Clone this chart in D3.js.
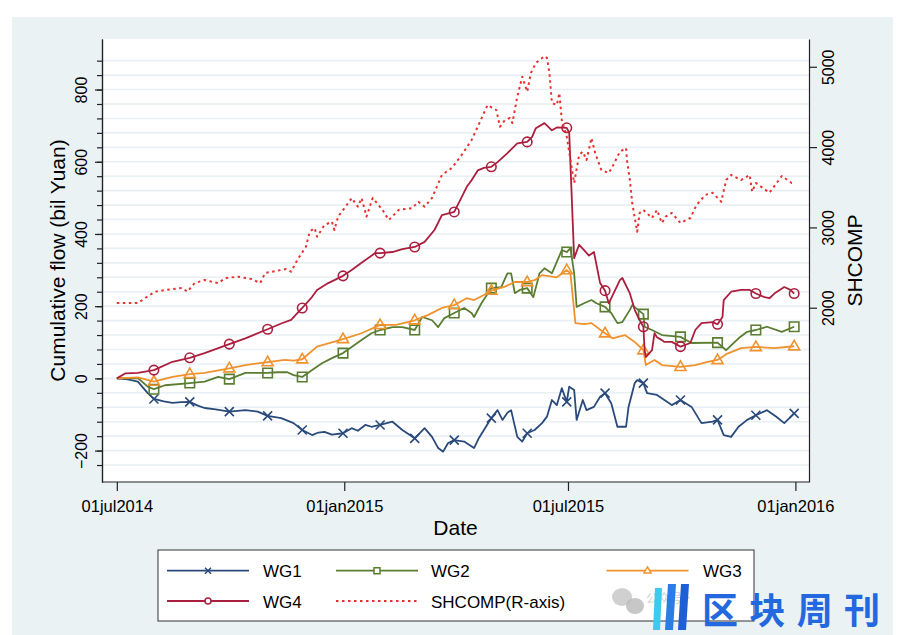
<!DOCTYPE html>
<html>
<head>
<meta charset="utf-8">
<script src="https://cdn.jsdelivr.net/npm/d3@7"></script>
<style>
body { margin: 0; background: #fff; }
svg text { font-family: "Liberation Sans", Arial, Helvetica, sans-serif; fill: #000; }
</style>
</head>
<body>
<svg id="chart" width="907" height="635"></svg>
<script>
// month-end observations that carry a marker
const markerDates = ["2014-07-31","2014-08-29","2014-09-30","2014-10-31","2014-11-28","2014-12-31",
  "2015-01-30","2015-02-27","2015-03-31","2015-04-30","2015-05-29","2015-06-30",
  "2015-07-31","2015-08-31","2015-09-30","2015-10-30","2015-11-30","2015-12-31"];

const wg1 = [["2014-07-01",0],["2014-07-10",-3],["2014-07-18",-9],["2014-07-26",-41],["2014-07-31",-57],["2014-08-08",-64],["2014-08-15",-68],["2014-08-22",-66],["2014-08-29",-65],["2014-09-05",-76],["2014-09-10",-82],["2014-09-19",-86],["2014-09-30",-92],["2014-10-13",-88],["2014-10-23",-92],["2014-10-31",-104],["2014-11-11",-110],["2014-11-21",-124],["2014-11-28",-143],["2014-12-06",-157],["2014-12-11",-150],["2014-12-16",-148],["2014-12-22",-156],["2014-12-31",-152],["2015-01-07",-138],["2015-01-12",-145],["2015-01-18",-129],["2015-01-23",-134],["2015-01-30",-129],["2015-02-09",-120],["2015-02-17",-143],["2015-02-27",-166],["2015-03-07",-138],["2015-03-13",-162],["2015-03-18",-193],["2015-03-22",-203],["2015-03-26",-179],["2015-03-31",-171],["2015-04-08",-175],["2015-04-16",-193],["2015-04-20",-165],["2015-04-24",-143],["2015-04-30",-110],["2015-05-05",-88],["2015-05-09",-115],["2015-05-13",-95],["2015-05-16",-88],["2015-05-21",-162],["2015-05-25",-175],["2015-05-29",-152],["2015-06-04",-143],["2015-06-10",-124],["2015-06-14",-106],["2015-06-18",-60],["2015-06-22",-74],["2015-06-26",-27],["2015-06-30",-65],["2015-07-02",-23],["2015-07-06",-32],["2015-07-08",-115],["2015-07-13",-60],["2015-07-16",-88],["2015-07-22",-79],["2015-07-27",-51],["2015-07-31",-41],["2015-08-05",-69],["2015-08-10",-134],["2015-08-17",-134],["2015-08-19",-79],["2015-08-24",-13],["2015-08-26",-5],["2015-08-31",-13],["2015-09-03",-41],["2015-09-11",-46],["2015-09-17",-60],["2015-09-23",-74],["2015-09-30",-60],["2015-10-09",-79],["2015-10-17",-124],["2015-10-26",-120],["2015-10-30",-115],["2015-11-04",-157],["2015-11-10",-162],["2015-11-16",-134],["2015-11-23",-115],["2015-11-30",-102],["2015-12-09",-88],["2015-12-16",-105],["2015-12-23",-124],["2015-12-31",-97]];

const wg2 = [["2014-07-01",0],["2014-07-18",1],["2014-07-26",-23],["2014-07-31",-30],["2014-08-09",-19],["2014-08-29",-13],["2014-09-10",-9],["2014-09-21",4],["2014-09-30",-2],["2014-10-13",15],["2014-10-31",15],["2014-11-08",17],["2014-11-16",17],["2014-11-21",9],["2014-11-28",4],["2014-12-06",23],["2014-12-14",42],["2014-12-22",56],["2014-12-31",70],["2015-01-07",87],["2015-01-15",106],["2015-01-23",125],["2015-01-30",134],["2015-02-09",142],["2015-02-17",142],["2015-02-27",134],["2015-03-05",170],["2015-03-13",161],["2015-03-18",142],["2015-03-23",167],["2015-03-31",181],["2015-04-08",195],["2015-04-14",181],["2015-04-16",170],["2015-04-22",208],["2015-04-30",250],["2015-05-08",253],["2015-05-13",291],["2015-05-16",291],["2015-05-19",236],["2015-05-23",245],["2015-05-29",250],["2015-06-03",225],["2015-06-08",291],["2015-06-12",305],["2015-06-18",291],["2015-06-26",355],["2015-06-30",350],["2015-07-03",361],["2015-07-06",291],["2015-07-08",198],["2015-07-14",208],["2015-07-20",217],["2015-07-24",208],["2015-07-31",198],["2015-08-05",181],["2015-08-10",153],["2015-08-14",156],["2015-08-20",189],["2015-08-22",203],["2015-08-31",178],["2015-09-01",143],["2015-09-07",134],["2015-09-15",120],["2015-09-30",115],["2015-10-09",98],["2015-10-30",99],["2015-11-06",78],["2015-11-16",111],["2015-11-23",129],["2015-11-30",134],["2015-12-09",143],["2015-12-21",129],["2015-12-31",143]];

const wg3 = [["2014-07-01",0],["2014-07-18",3],["2014-07-31",-9],["2014-08-15",4],["2014-08-29",12],["2014-09-10",15],["2014-09-30",28],["2014-10-13",37],["2014-10-31",45],["2014-11-14",51],["2014-11-21",49],["2014-11-28",53],["2014-12-10",88],["2014-12-31",109],["2015-01-15",125],["2015-01-30",148],["2015-02-12",148],["2015-02-27",161],["2015-03-10",176],["2015-03-21",195],["2015-03-31",203],["2015-04-10",222],["2015-04-16",217],["2015-04-24",231],["2015-04-30",243],["2015-05-11",254],["2015-05-19",267],["2015-05-29",267],["2015-06-04",272],["2015-06-10",286],["2015-06-22",280],["2015-06-30",300],["2015-07-03",291],["2015-07-07",153],["2015-07-14",150],["2015-07-20",153],["2015-07-31",125],["2015-08-06",111],["2015-08-16",120],["2015-08-24",101],["2015-08-31",78],["2015-09-02",37],["2015-09-09",51],["2015-09-15",37],["2015-09-30",32],["2015-10-12",37],["2015-10-22",46],["2015-10-30",51],["2015-11-06",67],["2015-11-18",84],["2015-11-30",87],["2015-12-15",84],["2015-12-31",89]];

const wg4 = [["2014-07-01",0],["2014-07-08",14],["2014-07-18",15],["2014-07-31",23],["2014-08-15",46],["2014-08-29",57],["2014-09-10",70],["2014-09-30",95],["2014-10-13",111],["2014-10-31",136],["2014-11-11",152],["2014-11-19",162],["2014-11-28",195],["2014-12-06",226],["2014-12-10",245],["2014-12-19",264],["2014-12-24",272],["2014-12-31",284],["2015-01-07",300],["2015-01-15",320],["2015-01-26",347],["2015-01-30",347],["2015-02-09",350],["2015-02-17",358],["2015-02-27",364],["2015-03-07",378],["2015-03-15",411],["2015-03-21",452],["2015-03-31",461],["2015-04-06",502],["2015-04-10",530],["2015-04-14",549],["2015-04-19",576],["2015-04-24",583],["2015-04-30",586],["2015-05-05",599],["2015-05-13",624],["2015-05-21",651],["2015-05-29",655],["2015-06-02",669],["2015-06-05",693],["2015-06-12",707],["2015-06-18",687],["2015-06-22",695],["2015-06-30",694],["2015-07-02",680],["2015-07-06",333],["2015-07-10",370],["2015-07-14",355],["2015-07-18",340],["2015-07-22",350],["2015-07-27",264],["2015-07-31",243],["2015-08-03",208],["2015-08-12",272],["2015-08-14",278],["2015-08-20",236],["2015-08-24",190],["2015-08-28",161],["2015-08-31",143],["2015-09-01",78],["2015-09-02",59],["2015-09-07",78],["2015-09-09",125],["2015-09-11",114],["2015-09-15",106],["2015-09-17",101],["2015-09-23",101],["2015-09-30",88],["2015-10-08",98],["2015-10-12",134],["2015-10-17",153],["2015-10-26",156],["2015-10-30",150],["2015-11-03",170],["2015-11-04",217],["2015-11-10",240],["2015-11-18",245],["2015-11-25",245],["2015-11-30",235],["2015-12-07",225],["2015-12-11",222],["2015-12-15",235],["2015-12-23",253],["2015-12-28",245],["2015-12-31",235]];

const shcomp = [["2014-07-01",2058],["2014-07-18",2058],["2014-07-24",2121],["2014-08-01",2200],["2014-08-15",2233],["2014-08-23",2245],["2014-08-27",2200],["2014-09-02",2307],["2014-09-10",2345],["2014-09-21",2307],["2014-09-27",2370],["2014-10-07",2386],["2014-10-18",2357],["2014-10-25",2307],["2014-10-29",2432],["2014-11-08",2461],["2014-11-15",2482],["2014-11-19",2448],["2014-11-24",2594],["2014-12-01",2760],["2014-12-04",2946],["2014-12-08",2992],["2014-12-10",2884],["2014-12-16",3030],["2014-12-22",3071],["2014-12-24",2968],["2014-12-27",3134],["2015-01-05",3320],["2015-01-07",3366],["2015-01-12",3258],["2015-01-15",3366],["2015-01-19",3134],["2015-01-24",3366],["2015-02-01",3217],["2015-02-06",3092],["2015-02-14",3217],["2015-02-25",3241],["2015-03-02",3320],["2015-03-07",3258],["2015-03-13",3366],["2015-03-21",3653],["2015-03-29",3740],["2015-04-06",3902],["2015-04-14",4088],["2015-04-19",4254],["2015-04-24",4425],["2015-04-27",4524],["2015-05-04",4462],["2015-05-07",4254],["2015-05-11",4338],["2015-05-15",4362],["2015-05-17",4300],["2015-05-21",4628],["2015-05-25",4877],["2015-05-29",4690],["2015-06-01",4922],["2015-06-05",5047],["2015-06-12",5134],["2015-06-14",5110],["2015-06-16",4922],["2015-06-18",4549],["2015-06-22",4524],["2015-06-24",4673],["2015-06-26",4338],["2015-06-30",4130],["2015-07-03",3839],["2015-07-06",3553],["2015-07-10",3901],["2015-07-13",3943],["2015-07-16",3839],["2015-07-20",4113],["2015-07-23",3926],["2015-07-28",3715],["2015-08-03",3677],["2015-08-06",3756],["2015-08-12",3943],["2015-08-17",3989],["2015-08-18",3800],["2015-08-20",3600],["2015-08-22",3300],["2015-08-26",2946],["2015-08-28",3180],["2015-08-31",3217],["2015-09-07",3117],["2015-09-11",3217],["2015-09-15",3055],["2015-09-18",3134],["2015-09-23",3180],["2015-09-30",3055],["2015-10-08",3117],["2015-10-13",3279],["2015-10-20",3403],["2015-10-26",3432],["2015-11-02",3320],["2015-11-06",3590],["2015-11-10",3653],["2015-11-18",3590],["2015-11-25",3653],["2015-11-27",3445],["2015-11-30",3553],["2015-12-11",3432],["2015-12-21",3640],["2015-12-29",3553],["2015-12-31",3553]];

const leftTicks = [-200, 0, 200, 400, 600, 800];
const rightTicks = [2000, 3000, 4000, 5000];
const dateTicks = ["2014-07-01", "2015-01-01", "2015-07-01", "2016-01-01"];

const svg = d3.select('#chart');
const parse = d3.timeParse('%Y-%m-%d');
const plot = { left: 102, right: 809, top: 39, bottom: 482 };

const x = d3.scaleTime().domain([parse('2014-06-19'), parse('2016-01-12')]).range([plot.left, plot.right]);
const yL = d3.scaleLinear().domain([-287, 940]).range([plot.bottom, plot.top]);
const yR = d3.scaleLinear().domain([-170, 5346]).range([plot.bottom, plot.top]);

// graph region + plot region
svg.append('rect').attr('x', 12).attr('y', 17).attr('width', 881).attr('height', 618).attr('fill', '#eaf2f3');
svg.append('rect').attr('x', plot.left).attr('y', plot.top)
    .attr('width', plot.right - plot.left).attr('height', plot.bottom - plot.top).attr('fill', '#fff');

// gridlines at every minor tick
const minorTicks = d3.range(-240, 881, 40);
svg.append('g').selectAll('line')
    .data(minorTicks)
    .enter().append('line')
    .attr('x1', plot.left).attr('x2', plot.right)
    .attr('y1', d => yL(d)).attr('y2', d => yL(d))
    .attr('stroke', '#e9f0f3').attr('stroke-width', 1.6);

// axes
const axisColor = '#222';
function styleAxis(g) {
    g.selectAll('path.domain').attr('stroke', axisColor).attr('stroke-width', 1.2);
    g.selectAll('.tick line').attr('stroke', axisColor).attr('stroke-width', 1.2);
    g.attr('font-family', null).attr('font-size', null);
}

const gMinor = svg.append('g').attr('transform', `translate(${plot.left},0)`)
    .call(d3.axisLeft(yL).tickValues(minorTicks).tickSize(5).tickSizeOuter(0).tickFormat(''));
styleAxis(gMinor);

const gLeft = svg.append('g').attr('transform', `translate(${plot.left},0)`)
    .call(d3.axisLeft(yL).tickValues(leftTicks).tickSize(7).tickSizeOuter(0));
styleAxis(gLeft);
gLeft.selectAll('.tick text')
    .attr('x', null).attr('dy', null)
    .attr('transform', 'translate(-15,0) rotate(-90)')
    .attr('text-anchor', 'middle')
    .style('font-size', '16px');

const gRight = svg.append('g').attr('transform', `translate(${plot.right},0)`)
    .call(d3.axisRight(yR).tickValues(rightTicks).tickSize(8).tickSizeOuter(0).tickFormat(d3.format('d')));
styleAxis(gRight);
gRight.selectAll('.tick text')
    .attr('x', null).attr('dy', null)
    .attr('transform', 'translate(25,0) rotate(-90)')
    .attr('text-anchor', 'middle')
    .style('font-size', '16px');

const fmt = d3.timeFormat('%d%b%Y');
const gBottom = svg.append('g').attr('transform', `translate(0,${plot.bottom})`)
    .call(d3.axisBottom(x).tickValues(dateTicks.map(parse)).tickSize(9).tickSizeOuter(0)
        .tickFormat(d => fmt(d).toLowerCase()));
styleAxis(gBottom);
gBottom.select('path.domain').attr('d', `M${plot.left},0H${plot.right}`);
gBottom.selectAll('.tick text').attr('y', 30).attr('dy', null).style('font-size', '16.5px');

// axis titles
svg.append('text').attr('transform', `translate(65,${(plot.top + plot.bottom) / 2}) rotate(-90)`)
    .attr('text-anchor', 'middle').style('font-size', '21px').text('Cumulative flow (bil Yuan)');
svg.append('text').attr('transform', `translate(862,${(plot.top + plot.bottom) / 2}) rotate(-90)`)
    .attr('text-anchor', 'middle').style('font-size', '21px').text('SHCOMP');
svg.append('text').attr('x', (plot.left + plot.right) / 2).attr('y', 535)
    .attr('text-anchor', 'middle').style('font-size', '21px').text('Date');

// markers
function markerPath(type, s) {
    const h = s / 2;
    if (type === 'x') return `M${-h},${-h}L${h},${h}M${-h},${h}L${h},${-h}`;
    if (type === 'square') return `M${-h},${-h}H${h}V${h}H${-h}Z`;
    if (type === 'triangle') return `M0,${-s * 0.62}L${s * 0.58},${s * 0.38}L${-s * 0.58},${s * 0.38}Z`;
    return `M${h},0A${h},${h} 0 1 1 ${-h},0A${h},${h} 0 1 1 ${h},0Z`;
}

const series = [
    { name: 'WG1', data: wg1, color: '#2a4a7c', marker: 'x', axis: yL },
    { name: 'WG2', data: wg2, color: '#5a7d32', marker: 'square', axis: yL },
    { name: 'WG3', data: wg3, color: '#f0922e', marker: 'triangle', axis: yL },
    { name: 'WG4', data: wg4, color: '#ab1f3e', marker: 'circle', axis: yL },
    { name: 'SHCOMP(R-axis)', data: shcomp, color: '#e8312f', marker: null, axis: yR, dash: '2.5,3.5' }
];
series.forEach(s => {
    s.points = s.data.map(d => ({ date: parse(d[0]), key: d[0], value: d[1] }));
});

svg.append('clipPath').attr('id', 'clip').append('rect')
    .attr('x', plot.left).attr('y', plot.top)
    .attr('width', plot.right - plot.left).attr('height', plot.bottom - plot.top);

const gSeries = svg.append('g').attr('clip-path', 'url(#clip)');
const markerSet = new Set(markerDates);

series.forEach(s => {
    const line = d3.line().x(d => x(d.date)).y(d => s.axis(d.value));
    gSeries.append('path')
        .datum(s.points)
        .attr('d', line)
        .attr('fill', 'none')
        .attr('stroke', s.color)
        .attr('stroke-width', s.dash ? 2 : 1.8)
        .attr('stroke-linejoin', 'round')
        .attr('stroke-dasharray', s.dash || null);

    if (s.marker) {
        gSeries.selectAll(null)
            .data(s.points.filter(d => markerSet.has(d.key)))
            .enter().append('path')
            .attr('transform', d => `translate(${x(d.date)},${s.axis(d.value)})`)
            .attr('d', markerPath(s.marker, s.marker === 'x' ? 9 : 9.5))
            .attr('fill', 'none')
            .attr('stroke', s.color)
            .attr('stroke-width', 1.6);
    }
});

// legend
const legend = svg.append('g');
legend.append('rect').attr('x', 158).attr('y', 550).attr('width', 596).attr('height', 71)
    .attr('fill', '#fff').attr('stroke', '#333').attr('stroke-width', 1);

const colX = [167, 336, 606.5];
const textX = [263, 431, 703];
const rowY = [570.7, 601];
const slots = [[0, 0], [1, 0], [2, 0], [0, 1], [1, 1]];

series.forEach((s, i) => {
    const [c, r] = slots[i];
    const g = legend.append('g');
    g.append('line')
        .attr('x1', colX[c]).attr('x2', colX[c] + 82)
        .attr('y1', rowY[r]).attr('y2', rowY[r])
        .attr('stroke', s.color).attr('stroke-width', s.dash ? 2 : 1.8)
        .attr('stroke-dasharray', s.dash || null);
    if (s.marker) {
        g.append('path')
            .attr('transform', `translate(${colX[c] + 41},${rowY[r]})`)
            .attr('d', markerPath(s.marker, 6))
            .attr('fill', s.marker === 'x' ? 'none' : '#fff')
            .attr('stroke', s.color).attr('stroke-width', 1.5);
    }
    g.append('text').attr('x', textX[c]).attr('y', rowY[r] + 6.5)
        .style('font-size', '17px').text(s.name);
});

// watermark
const wm = svg.append('g');
wm.append('ellipse').attr('cx', 622).attr('cy', 597).attr('rx', 10).attr('ry', 9).attr('fill', '#c4c4c4').attr('opacity', 0.8);
wm.append('ellipse').attr('cx', 635).attr('cy', 606).attr('rx', 9).attr('ry', 8).attr('fill', '#b9b9b9').attr('opacity', 0.8);
wm.append('text').attr('x', 646).attr('y', 603).style('font-family', '"Noto Sans CJK SC"')
    .style('font-size', '12px').style('fill', '#d2d2d2').text('公众号·');
wm.append('path').attr('d', 'M655,588L662,588L660,630L653,630Z').attr('fill', '#3ec9ee');
wm.append('path').attr('d', 'M668,584L676,584L673,630L665,630Z').attr('fill', '#2a7de6');
wm.append('path').attr('d', 'M681,584L689,584L686,630L678,630Z').attr('fill', '#1f5fd6');
wm.append('text').attr('x', 702).attr('y', 624)
    .attr('textLength', 178).attr('lengthAdjust', 'spacing')
    .style('font-family', '"Noto Sans CJK SC"').style('font-weight', 'bold')
    .style('font-size', '36px').style('fill', '#2468e0').text('区块周刊');
</script>
</body>
</html>
